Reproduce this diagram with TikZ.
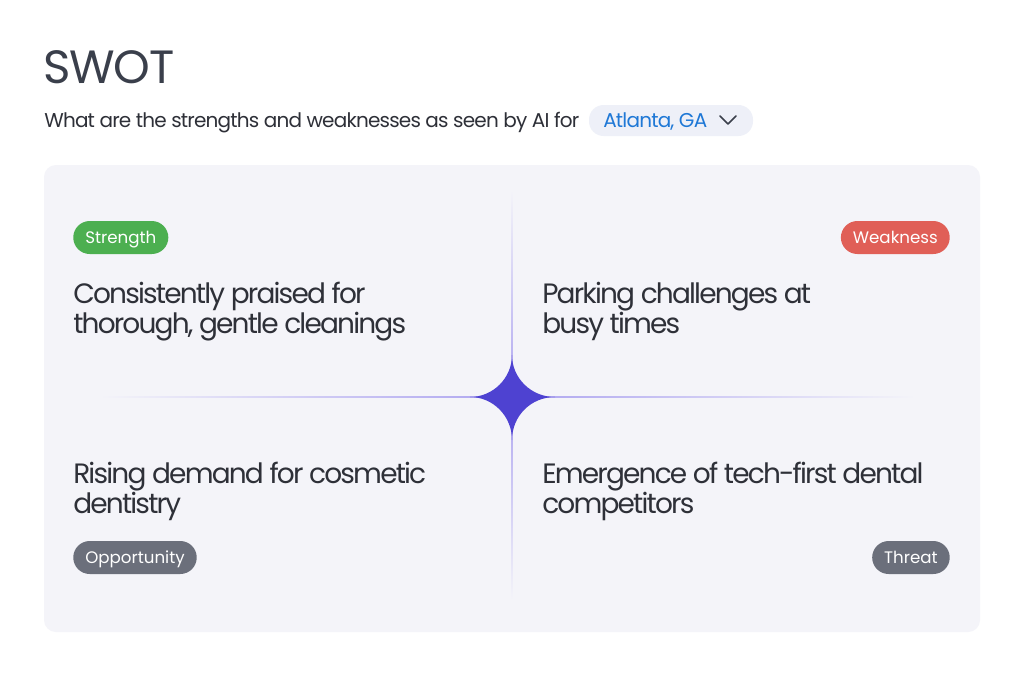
\documentclass[tikz,border=0pt]{standalone}
\usepackage{fontspec}
\setmainfont{Poppins}
\newfontfamily\titlefont[LetterSpace=-2.5]{Poppins}
\newfontfamily\leadfont[LetterSpace=-4]{Poppins}
\newfontfamily\quadfont[LetterSpace=-6.5]{Poppins}
\usetikzlibrary{
	positioning		% relative placement
	, calc
}

\definecolor{titlegray}{HTML}{3A3F4B}
\definecolor{textgray}{HTML}{2E3038}
\definecolor{panelbg}{HTML}{F4F4F9}
\definecolor{pillbg}{HTML}{EEF0F8}
\definecolor{linkblue}{HTML}{1F78D6}
\definecolor{tagGreen}{HTML}{4CAF50}
\definecolor{tagRed}{HTML}{E05F57}
\definecolor{tagGray}{HTML}{6B6F7B}
\definecolor{starfill}{HTML}{4E42D1}
\definecolor{starline}{HTML}{ADA4F0}

\begin{document}
\begin{tikzpicture}[
		x=0.75pt, y=-0.75pt,
		tag/.style={
			rounded corners=16.5*0.75pt,
			text=white,
			font=\fontsize{12.5}{14}\selectfont,
			minimum height=33*0.75pt,
			text height=8.8pt,
			text depth=0pt,
			inner xsep=9pt,
			inner ysep=0pt
		},
		quadtext/.style={
			anchor=base west,	% base of the last line
			align=left,
			inner sep=0pt,
			text=textgray,
			font=\quadfont\fontsize{21}{22.5}\selectfont
		}]

	% page and panel
	\useasboundingbox (0,0) rectangle (1024,676);
	\fill[white] (0,0) rectangle (1024,676);
	\fill[panelbg, rounded corners=9pt] (44,165) rectangle (980,632);

	%%% Heading
	\node[anchor=base west, inner sep=0pt, text=titlegray,
		font=\titlefont\fontsize{35}{40}\selectfont] (title) at (43,83.5) {SWOT};
	\node[anchor=base west, inner sep=0pt, text=textgray,
		font=\leadfont\fontsize{15}{18}\selectfont] (question) at (44,127)
		{What are the strengths and weaknesses as seen by AI for};

	% city selector
	\fill[pillbg, rounded corners=11pt] (589,105) rectangle (753,136);
	\node[anchor=base west, inner sep=0pt, text=linkblue,
		font=\leadfont\fontsize{15}{18}\selectfont] (city) at (603,127) {Atlanta, GA};
	\coordinate (chevron) at (728,124);
	\draw[titlegray, line width=1.1pt, line cap=round, line join=round]
		($(chevron)+(-8,-8)$) -- (chevron) -- ++(8,-8);

	%%% Cross lines, fading to both ends
	\shade[left color=panelbg, right color=starline] (100,396.3) rectangle (512,397.7);
	\shade[left color=starline, right color=panelbg] (512,396.3) rectangle (915,397.7);
	\shade[top color=panelbg, bottom color=starline] (511.3,190) rectangle (512.7,397);
	\shade[top color=starline, bottom color=panelbg] (511.3,397) rectangle (512.7,600);

	% the star in the middle
	\coordinate (star) at (512,397);
	\fill[starfill]
		(512,355) .. controls (512,378) and (493,397) .. (470,397)
		.. controls (493,397) and (512,416) .. (512,440)
		.. controls (512,416) and (531,397) .. (555,397)
		.. controls (531,397) and (512,378) .. (512,355) -- cycle;

	%%% Quadrants
	\node[tag, fill=tagGreen, anchor=west] (strength) at (73,237.5) {Strength};
	\node[tag, fill=tagRed, anchor=east] (weakness) at (950,237.5) {Weakness};
	\node[tag, fill=tagGray, anchor=west] (opportunity) at (73,557.5) {Opportunity};
	\node[tag, fill=tagGray, anchor=east] (threat) at (950,557.5) {Threat};

	\node[quadtext] (strengthtext) at (73,333.5)
		{Consistently praised for\\thorough, gentle cleanings};
	\node[quadtext] (weaknesstext) at (542,333.5)
		{Parking challenges at\\busy times};
	\node[quadtext] (opportunitytext) at (73,513)
		{Rising demand for cosmetic\\dentistry};
	\node[quadtext] (threattext) at (542,513)
		{Emergence of tech-first dental\\competitors};

\end{tikzpicture}
\end{document}
